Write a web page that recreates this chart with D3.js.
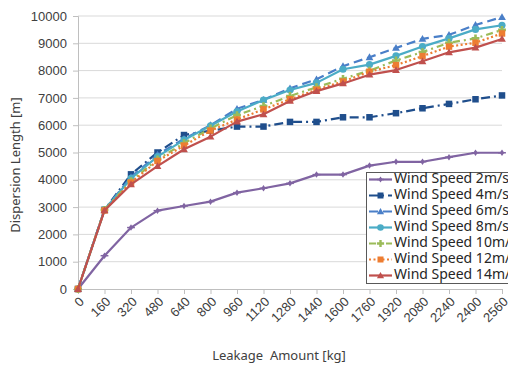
<!DOCTYPE html>
<html>
<head>
<meta charset="utf-8">
<script src="https://cdn.jsdelivr.net/npm/d3@7"></script>
<style>
  body { margin: 0; background: #fff; }
  svg { display: block; font-family: "Noto Sans", "Open Sans", sans-serif; }
</style>
</head>
<body>
<svg id="chart" width="508" height="368"></svg>
<script>
const leakage = [0, 160, 320, 480, 640, 800, 960, 1120, 1280, 1440, 1600, 1760, 1920, 2080, 2240, 2400, 2560];
const yTicks = [0, 1000, 2000, 3000, 4000, 5000, 6000, 7000, 8000, 9000, 10000];

const ws2  = [0, 1220, 2250, 2870, 3040, 3200, 3530, 3690, 3870, 4190, 4190, 4520, 4660, 4660, 4830, 4990, 4990];
const ws4  = [0, 2900, 4200, 5000, 5640, 5800, 5950, 5950, 6120, 6120, 6290, 6290, 6440, 6620, 6780, 6950, 7090];
const ws6  = [0, 2900, 4100, 4920, 5500, 6000, 6600, 6930, 7350, 7680, 8160, 8490, 8830, 9160, 9310, 9670, 9960];
const ws8  = [0, 2900, 4050, 4850, 5460, 5980, 6500, 6920, 7290, 7550, 8050, 8220, 8540, 8880, 9180, 9510, 9660];
const ws10 = [0, 2900, 3950, 4750, 5340, 5880, 6370, 6700, 7070, 7390, 7700, 8000, 8370, 8680, 9020, 9180, 9490];
const ws12 = [0, 2880, 3900, 4690, 5250, 5800, 6210, 6580, 6950, 7300, 7600, 7960, 8200, 8530, 8880, 9020, 9360];
const ws14 = [0, 2880, 3830, 4500, 5120, 5580, 6130, 6400, 6890, 7250, 7530, 7850, 8020, 8340, 8670, 8840, 9160];

const seriesNames = ["Wind Speed 2m/s", "Wind Speed 4m/s", "Wind Speed 6m/s", "Wind Speed 8m/s",
                     "Wind Speed 10m/s", "Wind Speed 12m/s", "Wind Speed 14m/s"];
const seriesValues = [ws2, ws4, ws6, ws8, ws10, ws12, ws14];

// styles per series: colour, dash, marker
const styles = [
  { color: "#8064a2", dash: null,        marker: "diamond" },
  { color: "#1f4e8c", dash: "9,4,2,4",   marker: "square" },
  { color: "#4a7fc8", dash: "9,5",       marker: "triangle" },
  { color: "#4bacc6", dash: null,        marker: "circle" },
  { color: "#9bbb59", dash: "7,4,2,4",   marker: "cross" },
  { color: "#ed7d31", dash: "2,2.5",     marker: "square" },
  { color: "#c0504d", dash: null,        marker: "triangle" }
];

const svg = d3.select("#chart");
const width = 508, height = 368;
const margin = { top: 16, right: 6, bottom: 79, left: 78 };

const x = d3.scaleLinear().domain([0, 2560]).range([margin.left, width - margin.right]);
const y = d3.scaleLinear().domain([0, 10000]).range([height - margin.bottom, margin.top]);

// gridlines
svg.append("g")
  .selectAll("line")
  .data(yTicks.filter(d => d > 0))
  .enter().append("line")
  .attr("x1", margin.left).attr("x2", width - margin.right)
  .attr("y1", d => y(d)).attr("y2", d => y(d))
  .attr("stroke", "#d9d9d9").attr("stroke-width", 1);

// y axis
const yAxis = svg.append("g")
  .attr("transform", `translate(${margin.left},0)`)
  .call(d3.axisLeft(y).tickValues(yTicks).tickSize(5).tickPadding(6).tickFormat(d3.format("d")));
yAxis.select(".domain").attr("stroke", "#bfbfbf");
yAxis.selectAll(".tick line").attr("stroke", "#bfbfbf");
yAxis.selectAll("text").attr("font-size", 13).attr("fill", "#404040");

// x axis
const xAxis = svg.append("g")
  .attr("transform", `translate(0,${height - margin.bottom})`)
  .call(d3.axisBottom(x).tickValues(leakage).tickSize(5).tickFormat(d3.format("d")));
xAxis.select(".domain").attr("stroke", "#bfbfbf");
xAxis.selectAll(".tick line").attr("stroke", "#bfbfbf");
xAxis.selectAll("text")
  .attr("font-size", 13).attr("fill", "#404040")
  .attr("text-anchor", "end")
  .attr("dy", null)
  .attr("y", 0)
  .attr("transform", "translate(4,11) rotate(-45)")
  .attr("dominant-baseline", "middle");

// axis titles
svg.append("text")
  .attr("transform", "translate(17,165) rotate(-90)")
  .attr("text-anchor", "middle")
  .attr("dominant-baseline", "middle")
  .attr("font-size", 13).attr("fill", "#404040")
  .text("Dispersion Length [m]");

svg.append("text")
  .attr("x", 279)
  .attr("y", 357)
  .attr("text-anchor", "middle")
  .attr("dominant-baseline", "middle")
  .attr("font-size", 13).attr("fill", "#404040")
  .attr("xml:space", "preserve")
  .text("Leakage  Amount [kg]");

function drawMarker(g, kind, color, size) {
  const s = size;
  if (kind === "circle") {
    g.append("circle").attr("r", s * 0.55).attr("fill", color);
  } else if (kind === "square") {
    g.append("rect").attr("x", -s / 2).attr("y", -s / 2).attr("width", s).attr("height", s).attr("fill", color);
  } else if (kind === "triangle") {
    g.append("path").attr("d", `M0,${-s * 0.6}L${s * 0.6},${s * 0.45}L${-s * 0.6},${s * 0.45}Z`).attr("fill", color);
  } else if (kind === "diamond") {
    g.append("path").attr("d", `M0,${-s * 0.5}L${s * 0.35},0L0,${s * 0.5}L${-s * 0.35},0Z`).attr("fill", color);
    g.append("line").attr("x1", -s * 0.6).attr("x2", s * 0.6).attr("stroke", color).attr("stroke-width", 1.5);
  } else if (kind === "cross") {
    g.append("path").attr("d", d3.symbol(d3.symbolCross, s * s * 0.8)()).attr("fill", color);
  }
}

const line = d3.line().x((d, i) => x(leakage[i])).y(d => y(d));

seriesValues.forEach((vals, k) => {
  const st = styles[k];
  const g = svg.append("g").attr("class", "series");
  g.append("path")
    .datum(vals)
    .attr("d", line)
    .attr("fill", "none")
    .attr("stroke", st.color)
    .attr("stroke-width", 2.2)
    .attr("stroke-dasharray", st.dash)
    .attr("stroke-linejoin", "round");
  g.selectAll(".pt")
    .data(vals)
    .enter().append("g")
    .attr("transform", (d, i) => `translate(${x(leakage[i])},${y(d)})`)
    .each(function () { drawMarker(d3.select(this), st.marker, st.color, 6.5); });
});

// legend
const legend = svg.append("g").attr("transform", "translate(366,172)");
legend.append("rect")
  .attr("x", 0.5).attr("y", 0.5).attr("width", 170).attr("height", 111)
  .attr("fill", "#fff").attr("stroke", "#595959").attr("stroke-width", 1);

seriesNames.forEach((name, k) => {
  const st = styles[k];
  const row = legend.append("g").attr("transform", `translate(0,${7.5 + k * 16})`);
  row.append("line")
    .attr("x1", 3).attr("x2", 26)
    .attr("stroke", st.color).attr("stroke-width", 2.2)
    .attr("stroke-dasharray", st.dash);
  const m = row.append("g").attr("transform", "translate(14.5,0)");
  drawMarker(m, st.marker, st.color, 6);
  row.append("text")
    .attr("x", 28).attr("y", 0)
    .attr("dominant-baseline", "middle")
    .attr("font-size", 14).attr("fill", "#262626")
    .text(name);
});
</script>
</body>
</html>
